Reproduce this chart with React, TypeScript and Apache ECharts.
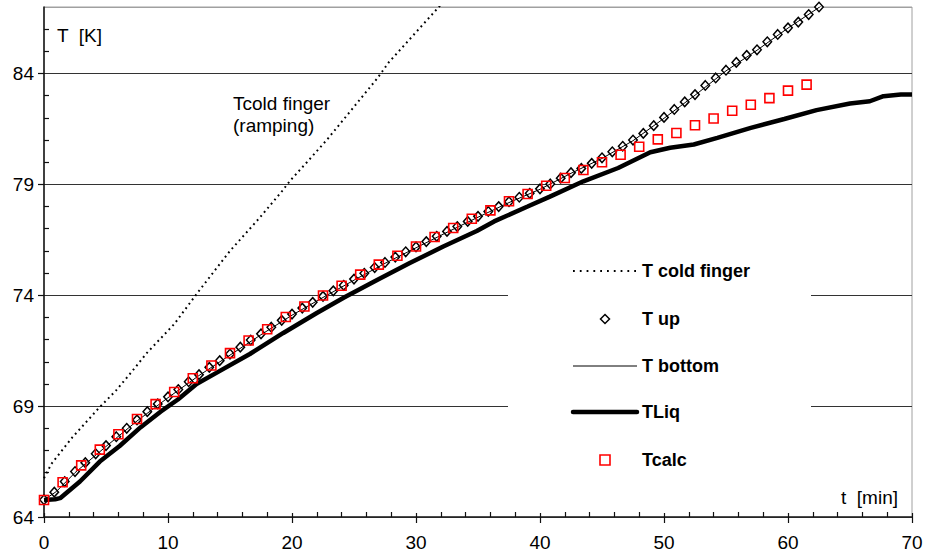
import React, { useEffect, useRef } from "react";
import * as echarts from "echarts";

// ---- data ----
const xTicks = [0, 10, 20, 30, 40, 50, 60, 70];
const yTicks = [64, 69, 74, 79, 84];

const coldTime = [0, 0.6, 2.3, 4.4, 5.8, 7.0, 8.3, 10.5, 12.5, 15.0, 17.4, 19.2, 19.9, 21.2, 22.8, 25.0, 26.9, 27.8, 29.9, 32.0];
const coldTemp = [65.75, 66.4, 67.6, 68.9, 69.7, 70.5, 71.4, 72.7, 74.2, 76.0, 77.5, 78.7, 79.2, 80.0, 81.0, 82.5, 83.8, 84.5, 85.8, 87.1];

const upTime = [0, 0.83, 1.67, 2.5, 3.33, 4.17, 5, 5.83, 6.67, 7.5, 8.33, 9.17, 10, 10.83, 11.67, 12.5, 13.33, 14.17, 15, 15.83, 16.67, 17.5, 18.33, 19.17, 20, 20.83, 21.67, 22.5, 23.33, 24.17, 25, 25.83, 26.67, 27.5, 28.33, 29.17, 30, 30.83, 31.67, 32.5, 33.33, 34.17, 35, 35.83, 36.67, 37.5, 38.33, 39.17, 40, 40.83, 41.67, 42.5, 43.33, 44.17, 45, 45.83, 46.67, 47.5, 48.33, 49.17, 50, 50.83, 51.67, 52.5, 53.33, 54.17, 55, 55.83, 56.67, 57.5, 58.33, 59.17, 60, 60.83, 61.67, 62.5];
const upTemp = [64.78, 65.12, 65.6, 66.05, 66.45, 66.85, 67.22, 67.62, 68.0, 68.38, 68.75, 69.1, 69.42, 69.75, 70.1, 70.42, 70.75, 71.05, 71.35, 71.66, 71.98, 72.26, 72.56, 72.87, 73.15, 73.42, 73.68, 73.95, 74.2, 74.45, 74.73, 74.99, 75.25, 75.48, 75.72, 75.96, 76.18, 76.42, 76.66, 76.88, 77.1, 77.33, 77.56, 77.78, 78.0, 78.22, 78.42, 78.6, 78.8, 79.02, 79.28, 79.53, 79.72, 79.95, 80.2, 80.47, 80.72, 81.0, 81.3, 81.65, 82.02, 82.38, 82.72, 83.05, 83.46, 83.8, 84.15, 84.5, 84.82, 85.07, 85.43, 85.76, 86.06, 86.32, 86.66, 87.0];

const bottomTime = [0, 1, 2.5, 5, 7.5, 10, 12.5, 15, 17.5, 20, 22.5, 25, 27.5, 30, 32.5, 35, 37.5, 40, 42.5, 45, 47.5, 50, 52.5, 55, 57.5, 60, 62.5, 63.5];
const bottomTemp = [64.77, 65.15, 66.0, 67.18, 68.33, 69.38, 70.38, 71.3, 72.22, 73.1, 73.9, 74.68, 75.44, 76.14, 76.84, 77.52, 78.18, 78.78, 79.5, 80.17, 80.97, 81.98, 83.02, 84.12, 85.05, 86.05, 86.98, 87.35];

const liqTime = [0, 0.9, 1.3, 2.9, 4.5, 6.1, 7.8, 9.4, 10.8, 12.3, 13.9, 16.6, 19.3, 22.0, 24.2, 26.9, 29.5, 32.2, 34.9, 36.3, 39.0, 40.8, 43.5, 46.3, 48.9, 50.5, 52.4, 54.3, 57.0, 59.7, 62.3, 65.0, 66.6, 67.7, 69.1, 70];
const liqTemp = [64.77, 64.8, 64.85, 65.6, 66.5, 67.2, 68.05, 68.75, 69.3, 70.0, 70.5, 71.35, 72.3, 73.2, 73.9, 74.7, 75.45, 76.2, 76.9, 77.33, 78.0, 78.45, 79.14, 79.74, 80.45, 80.65, 80.8, 81.1, 81.55, 81.95, 82.35, 82.65, 82.75, 82.98, 83.05, 83.05];

const calcTime = [0, 1.5, 3, 4.5, 6, 7.5, 9, 10.5, 12, 13.5, 15, 16.5, 18, 19.5, 21, 22.5, 24, 25.5, 27, 28.5, 30, 31.5, 33, 34.5, 36, 37.5, 39, 40.5, 42, 43.5, 45, 46.5, 48, 49.5, 51, 52.5, 54, 55.5, 57, 58.5, 60, 61.5];
const calcTemp = [64.77, 65.57, 66.33, 67.04, 67.73, 68.42, 69.09, 69.64, 70.26, 70.83, 71.39, 71.96, 72.47, 73.02, 73.49, 73.99, 74.43, 74.93, 75.38, 75.78, 76.2, 76.63, 77.03, 77.45, 77.83, 78.24, 78.57, 78.94, 79.29, 79.65, 80.0, 80.34, 80.7, 81.03, 81.32, 81.67, 81.97, 82.32, 82.59, 82.89, 83.23, 83.5];

const seriesNames = ["T cold finger", "T up", "T bottom", "TLiq", "Tcalc"];

const FONT = "'Liberation Sans', Arial, Helvetica, sans-serif";

const pairs = (xs: number[], ys: number[]) => xs.map((x, i) => [x, ys[i]]);

export default function App() {
  const ref = useRef<HTMLDivElement>(null);

  useEffect(() => {
    if (!ref.current) return;
    const chart = echarts.init(ref.current, undefined, { renderer: "svg" });

    const legendRows = [271, 319, 366, 412, 460];
    const iconL = 573;
    const iconR = 637;
    const iconC = 605;
    const textX = 642;
    const legendText = (i: number) => ({
      type: "text",
      z: 6,
      x: textX,
      y: legendRows[i],
      style: {
        text: seriesNames[i],
        font: `bold 18px ${FONT}`,
        fill: "#000",
        verticalAlign: "middle",
        align: "left",
      },
    });

    const option: any = {
      animation: false,
      grid: {
        left: 44,
        right: 15,
        top: 7,
        bottom: 42,
        show: true,
        borderColor: "#a0a0a0",
        borderWidth: 1,
        backgroundColor: "transparent",
      },
      xAxis: [
        {
          type: "value",
          min: xTicks[0],
          max: xTicks[xTicks.length - 1],
          interval: 10,
          position: "bottom",
          axisLine: { show: true, onZero: false, lineStyle: { color: "#222", width: 1.5 } },
          axisTick: { show: true, inside: false, length: 6, lineStyle: { color: "#111", width: 1.2 } },
          axisLabel: { fontSize: 19, color: "#000", fontFamily: FONT, margin: 16 },
          splitLine: { show: false },
        },
        {
          type: "value",
          min: xTicks[0],
          max: xTicks[xTicks.length - 1],
          interval: 10,
          position: "bottom",
          axisLine: { show: false, onZero: false },
          axisTick: { show: true, inside: true, length: 4, lineStyle: { color: "#111", width: 1.2 } },
          axisLabel: { show: false },
          splitLine: { show: false },
          minorTick: { show: true, splitNumber: 5, length: 5, lineStyle: { color: "#111", width: 1.2 } },
        },
      ],
      yAxis: [
        {
          type: "value",
          min: yTicks[0],
          max: 87,
          interval: 5,
          position: "left",
          axisLine: { show: true, onZero: false, lineStyle: { color: "#111", width: 1.5 } },
          axisTick: { show: true, inside: false, length: 6, lineStyle: { color: "#111", width: 1.2 } },
          axisLabel: { fontSize: 19, color: "#000", fontFamily: FONT, margin: 10, showMaxLabel: false },
          splitLine: {
            show: true,
            lineStyle: { color: ["#333", "#333", "#333", "#333", "#333", "#a0a0a0"], width: 1 },
          },
        },
        {
          type: "value",
          min: yTicks[0],
          max: 87,
          interval: 5,
          position: "left",
          axisLine: { show: false, onZero: false },
          axisTick: { show: false, inside: true },
          axisLabel: { show: false },
          splitLine: { show: false },
          minorTick: { show: true, splitNumber: 5, length: 5, lineStyle: { color: "#111", width: 1.2 } },
        },
      ],
      series: [
        {
          name: seriesNames[0],
          type: "line",
          data: pairs(coldTime, coldTemp),
          symbol: "none",
          showSymbol: false,
          lineStyle: { color: "#000", width: 2, type: [1.8, 3.6] },
          silent: true,
          z: 2,
        },
        {
          name: seriesNames[1],
          type: "scatter",
          data: pairs(upTime, upTemp),
          symbol: "diamond",
          symbolSize: [8.5, 9.5],
          itemStyle: { color: "#fff", borderColor: "#000", borderWidth: 1.5, opacity: 1 },
          silent: true,
          z: 3,
        },
        {
          name: seriesNames[2],
          type: "line",
          data: pairs(bottomTime, bottomTemp),
          symbol: "none",
          showSymbol: false,
          lineStyle: { color: "#000", width: 1 },
          silent: true,
          z: 4,
        },
        {
          name: seriesNames[3],
          type: "line",
          data: pairs(liqTime, liqTemp),
          symbol: "none",
          showSymbol: false,
          lineStyle: { color: "#000", width: 4.5 },
          silent: true,
          z: 4,
        },
        {
          name: seriesNames[4],
          type: "scatter",
          data: pairs(calcTime, calcTemp),
          symbol: "rect",
          symbolSize: 9,
          itemStyle: { color: "rgba(255,255,255,0)", borderColor: "#ff0000", borderWidth: 1.6, opacity: 1 },
          silent: true,
          z: 5,
        },
        {
          name: "_ticks",
          type: "line",
          xAxisIndex: 1,
          yAxisIndex: 1,
          data: [],
          symbol: "none",
          silent: true,
        },
      ],
      graphic: [
        {
          type: "rect",
          z: 1,
          shape: { x: 508, y: 238, width: 303, height: 254 },
          style: { fill: "#fff" },
          silent: true,
        },
        {
          type: "line",
          z: 6,
          shape: { x1: iconL, y1: legendRows[0], x2: iconR, y2: legendRows[0] },
          style: { stroke: "#000", lineWidth: 1.8, lineDash: [1.8, 5] },
        },
        legendText(0),
        {
          type: "polygon",
          z: 6,
          shape: {
            points: [
              [iconC, legendRows[1] - 4.5],
              [iconC + 4.5, legendRows[1]],
              [iconC, legendRows[1] + 4.5],
              [iconC - 4.5, legendRows[1]],
            ],
          },
          style: { fill: "#fff", stroke: "#000", lineWidth: 1.5 },
        },
        legendText(1),
        {
          type: "line",
          z: 6,
          shape: { x1: iconL, y1: legendRows[2], x2: iconR, y2: legendRows[2] },
          style: { stroke: "#000", lineWidth: 1 },
        },
        legendText(2),
        {
          type: "line",
          z: 6,
          shape: { x1: iconL, y1: legendRows[3], x2: iconR, y2: legendRows[3] },
          style: { stroke: "#000", lineWidth: 4.5, lineCap: "round" },
        },
        legendText(3),
        {
          type: "rect",
          z: 6,
          shape: { x: iconC - 5, y: legendRows[4] - 5, width: 10, height: 10 },
          style: { fill: "none", stroke: "#ff0000", lineWidth: 1.6 },
        },
        legendText(4),
        {
          type: "text",
          z: 6,
          x: 57,
          y: 35,
          style: { text: "T  [K]", font: `19px ${FONT}`, fill: "#000", verticalAlign: "middle", align: "left" },
        },
        {
          type: "text",
          z: 6,
          x: 898,
          y: 497,
          style: { text: "t  [min]", font: `19px ${FONT}`, fill: "#000", verticalAlign: "middle", align: "right" },
        },
        {
          type: "text",
          z: 6,
          x: 233,
          y: 103,
          style: { text: "Tcold finger", font: `19px ${FONT}`, fill: "#000", verticalAlign: "middle", align: "left" },
        },
        {
          type: "text",
          z: 6,
          x: 233,
          y: 125,
          style: { text: "(ramping)", font: `19px ${FONT}`, fill: "#000", verticalAlign: "middle", align: "left" },
        },
      ],
    };

    chart.setOption(option);
    return () => chart.dispose();
  }, []);

  return (
    <div
      ref={ref}
      style={{ position: "absolute", left: 0, top: 0, width: 927, height: 559, background: "#fff" }}
    />
  );
}
